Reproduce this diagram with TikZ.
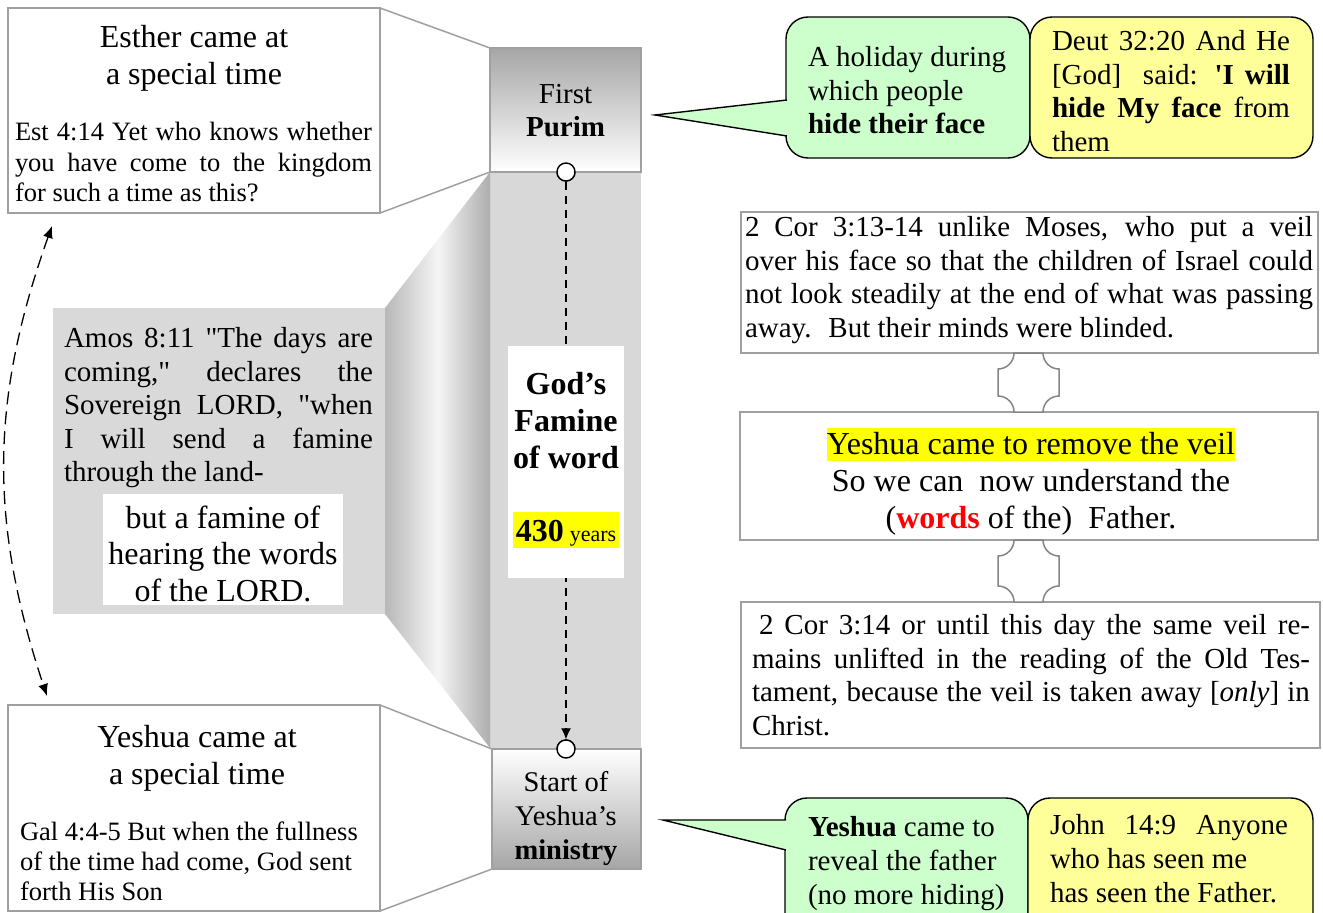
\documentclass[tikz,border=0pt]{standalone}
\usepackage{fontspec}
\setmainfont{Liberation Serif}[Ligatures=TeXOff]
\usetikzlibrary{arrows.meta}
\definecolor{bordergray}{HTML}{A0A0A0}
\definecolor{plaqgray}{HTML}{858585}
\definecolor{calgreen}{HTML}{CCFFCC}
\definecolor{calyellow}{HTML}{FFFF99}
\definecolor{colgray}{HTML}{D8D8D8}
\definecolor{amosgray}{HTML}{D9D9D9}
\definecolor{hiyellow}{HTML}{FFFF00}
\definecolor{wordred}{HTML}{FF0000}
\newcommand\myfs[2]{\fontsize{#1}{#2}\selectfont}
\newcommand\myplaque[3]{%
 \draw[plaq] ({#1-14.5},#2) -- ({#1+14.5},#2)
  .. controls ({#1+14.5},{#2+8.8}) and ({#1+21.7},{#2+16}) .. ({#1+30.5},{#2+16})
  -- ({#1+30.5},{#3-16})
  .. controls ({#1+21.7},{#3-16}) and ({#1+14.5},{#3-8.8}) .. ({#1+14.5},#3)
  -- ({#1-14.5},#3)
  .. controls ({#1-14.5},{#3-8.8}) and ({#1-21.7},{#3-16}) .. ({#1-30.5},{#3-16})
  -- ({#1-30.5},{#2+16})
  .. controls ({#1-21.7},{#2+16}) and ({#1-14.5},{#2+8.8}) .. cycle;}
\tikzset{
 box/.style={draw=bordergray, line width=1.5pt, fill=white, inner sep=0pt, outer sep=0pt, anchor=north west},
 plainbox/.style={draw=none, inner sep=0pt, outer sep=0pt, anchor=north west},
 ctext/.style={inner sep=0pt, outer sep=0pt, anchor=north, align=center},
 jtext/.style={inner sep=0pt, outer sep=0pt, anchor=north west, align=justify},
 ltext/.style={inner sep=0pt, outer sep=0pt, anchor=north west, align=left},
 bubble/.style={draw=black, line width=1.4pt, rounded corners=22pt, inner sep=0pt, outer sep=0pt, anchor=north west},
 pointer/.style={draw=black, line width=1.4pt},
 calline/.style={draw=bordergray, line width=1.5pt},
 timeline/.style={draw=black, line width=1.3pt, dash pattern=on 8pt off 6pt},
 arcdash/.style={draw=black, line width=1.3pt, dash pattern=on 13pt off 7pt},
 dot/.style={circle, draw=black, fill=white, line width=1.4pt, minimum size=18pt, inner sep=0pt},
 plaq/.style={draw=plaqgray, fill=white, line width=1.5pt},
}
\begin{document}
\begin{tikzpicture}[x=1pt,y=-1pt]
\useasboundingbox (0,0) rectangle (1323,913);

% central column and shaded funnel
\node[plainbox, fill=colgray, minimum width=151pt, minimum height=577pt] (column) at (490,172) {};
\shade[left color=black!28, right color=black!32, middle color=black!4]
  (385,308) -- (490,172) -- (490,748) -- (385,614) -- cycle;

% Amos box
\node[plainbox, fill=amosgray, minimum width=332pt, minimum height=306pt] (amos) at (53,308) {};
\node[jtext, text width=309pt, font=\myfs{29}{33.5}] (amostxt) at (64,327.6)
 {Amos 8:11 "The days are\linebreak coming," declares the\linebreak Sovereign LORD, "when\linebreak I will send a famine\linebreak through the land-};
\node[plainbox, fill=white, minimum width=240pt, minimum height=111pt] (hear) at (103,494) {};
\node[ctext, font=\myfs{32}{36.5}] (heartxt) at (223,505.5)
 {but a famine of\\hearing the words\\of the LORD.};

% timeline
\node[dot] (ctop) at (566,172) {};
\node[dot] (cbot) at (566,749) {};
\draw[timeline, -{Latex[length=11pt,width=10pt]}] (ctop) -- (cbot);
\node[plainbox, fill=white, minimum width=116pt, minimum height=232pt] (gods) at (508,346) {};
\node[ctext, font=\bfseries\myfs{32}{37}] (godstxt) at (566,372.5) {God’s\\Famine\\of word};
\node[inner sep=0pt, anchor=base] (years) at (566,541)
 {\setlength\fboxsep{0pt}\colorbox{hiyellow}{\vrule height 29pt depth 7pt width 0pt\hspace{3pt}{\bfseries\myfs{32}{37}430}\hspace{6pt}{\myfs{22}{26}years}\hspace{3pt}}};

% Purim and Start boxes
\node[box, top color=black!35, bottom color=white, minimum width=151pt, minimum height=124pt] (purim) at (490,48) {};
\node[ctext, font=\myfs{29}{33}] (purimtxt) at (565.5,84.6) {First\\\textbf{Purim}};
\node[box, top color=white, bottom color=black!35, minimum width=149pt, minimum height=120pt] (start) at (492,749) {};
\node[ctext, font=\myfs{28.5}{34}] (starttxt) at (566,771.7) {Start of\\Yeshua’s\\\textbf{ministry}};
\node[dot] at (ctop) {};
\node[dot] at (cbot) {};

% Esther box
\node[box, minimum width=372pt, minimum height=205pt] (esther) at (8,8) {};
\node[ctext, font=\myfs{32}{37}] (esthead) at (194,25.5) {Esther came at\\a special time};
\node[jtext, text width=357pt, font=\myfs{26.5}{30.5}] (esttxt) at (15,122.5)
 {Est 4:14 Yet who knows whether\linebreak you have come to the kingdom\linebreak for such a time as this?};
\draw[calline] (esther.north east) -- (purim.north west);
\draw[calline] (esther.south east) -- (purim.south west);

% Yeshua box
\node[box, minimum width=372pt, minimum height=206pt] (yeshua) at (8,705) {};
\node[ctext, font=\myfs{32}{37}] (yeshead) at (197,725.5) {Yeshua came at\\a special time};
\node[ltext, font=\myfs{26.5}{30}] (galtxt) at (20,821.5)
 {Gal 4:4-5 But when the fullness\\of the time had come, God sent\\forth His Son};
\draw[calline] (yeshua.north east) -- (start.north west);
\draw[calline] (yeshua.south east) -- (start.south west);

% dashed double arrow
\coordinate (arcA) at (52,226);
\coordinate (arcB) at (47,696);
\draw[arcdash, {Latex[length=12pt,width=10pt]}-{Latex[length=12pt,width=10pt]}] (arcA) to[bend right=19] (arcB);

% top callouts
\node[bubble, fill=calgreen, minimum width=244pt, minimum height=141pt] (hol) at (786,17) {};
\coordinate (tipA) at (655,115);
\coordinate (baseA1) at (787,100);
\coordinate (baseA2) at (787,136);
\fill[calgreen] (tipA) -- ([xshift=2pt]baseA1) -- ([xshift=2pt]baseA2) -- cycle;
\draw[pointer] (baseA1) -- (tipA) -- (baseA2);
\node[ltext, font=\myfs{29}{33.5}] (holtxt) at (808,46.6)
 {A holiday during\\which people\\\textbf{hide their face}};
\node[bubble, fill=calyellow, minimum width=283pt, minimum height=141pt] (deut) at (1030,17) {};
\node[jtext, text width=238pt, font=\myfs{29}{33.5}] (deuttxt) at (1052,30.6)
 {Deut 32:20 And He\linebreak{} [God]~ said: \textbf{'I will}\linebreak{} \textbf{hide My face} from\linebreak{} them};

% bottom callouts
\node[bubble, fill=calgreen, minimum width=243pt, minimum height=140pt] (reveal) at (785,798) {};
\coordinate (tipB) at (663,820);
\coordinate (baseB1) at (786,820);
\coordinate (baseB2) at (786,850);
\fill[calgreen] (tipB) -- ([xshift=2pt]baseB1) -- ([xshift=2pt]baseB2) -- cycle;
\draw[pointer] (baseB1) -- (tipB) -- (baseB2);
\node[ltext, font=\myfs{29}{34}] (revealtxt) at (808,816.6)
 {\textbf{Yeshua} came to\\reveal the father\\(no more hiding)};
\node[bubble, fill=calyellow, minimum width=285pt, minimum height=140pt] (john) at (1028,798) {};
\node[jtext, text width=238pt, font=\myfs{29}{34}] (johntxt) at (1050,814.6)
 {John 14:9 Anyone\linebreak{} who has seen me\\has seen the Father.};

% right boxes
\node[box, minimum width=577pt, minimum height=141pt] (cor1) at (741,212) {};
\node[jtext, text width=568pt, font=\myfs{29}{33.5}] (cor1txt) at (745,216.6)
 {2 Cor 3:13-14 unlike Moses, who put a veil\linebreak{} over his face so that the children of Israel could\linebreak{} not look steadily at the end of what was passing\linebreak{} away.~ But their minds were blinded.};
\node[box, minimum width=578pt, minimum height=128pt] (veil) at (740,412) {};
\node[ctext, font=\myfs{32}{37}] (veiltxt) at (1031,428)
 {{\setlength\fboxsep{0pt}\colorbox{hiyellow}{\vrule height 26.6pt depth 6.4pt width 0pt Yeshua came to remove the veil}}\\So we can~ now understand the\\(\textcolor{wordred}{\textbf{words}} of the)~ Father.};
\node[box, minimum width=579pt, minimum height=146pt] (cor2) at (741,602) {};
\node[jtext, text width=558pt, font=\myfs{29}{33.5}] (cor2txt) at (752,614.6)
 {\hspace*{7pt}2 Cor 3:14 or until this day the same veil re-\linebreak{} mains unlifted in the reading of the Old Tes-\linebreak{} tament, because the veil is taken away [\textit{only}] in\linebreak{} Christ.};
\myplaque{1028.5}{353}{412}
\myplaque{1028.5}{540}{602}
\end{tikzpicture}
\end{document}
